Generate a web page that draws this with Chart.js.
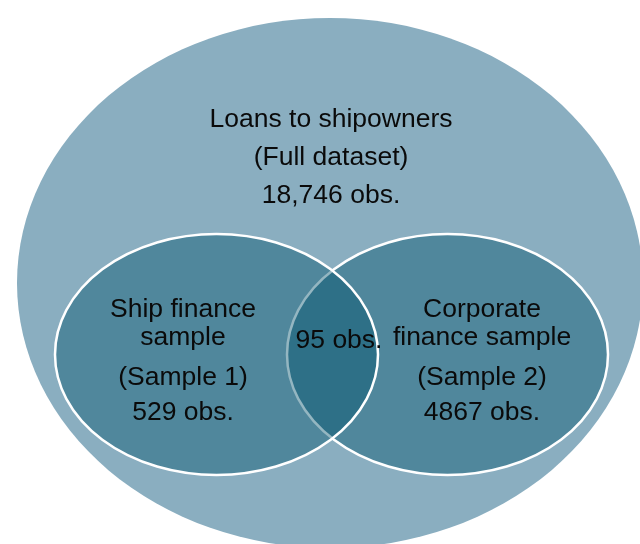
<!DOCTYPE html>
<html>
<head>
<meta charset="utf-8">
<script src="https://cdn.jsdelivr.net/npm/chart.js@4.4.1/dist/chart.umd.min.js"></script>
<style>
  html, body { margin: 0; padding: 0; background: #fff; }
  #venn { display: block; }
</style>
</head>
<body>
<canvas id="venn" width="640" height="544"></canvas>
<script>
// sets: full dataset, sample 1, sample 2
const setTitles = [['Loans to shipowners'], ['Ship finance', 'sample'], ['Corporate', 'finance sample']];
const setNotes = ['(Full dataset)', '(Sample 1)', '(Sample 2)'];
const setObs = [18746, 529, 4867];
const overlapObs = 95;

// ellipse geometry and label rows in plot units (x 0..640, y 0..544 top-down)
const shapes = [
  { cx: 330, cy: 283, rx: 313, ry: 265, tx: 331, rows: [120, 158, 196] },
  { cx: 216.5, cy: 354.5, rx: 161.5, ry: 120.5, tx: 183, rows: [310, 338, 378, 413] },
  { cx: 447.5, cy: 354.5, rx: 160.5, ry: 120.5, tx: 482, rows: [310, 338, 378, 413] }
];
const overlapPos = { x: 339, y: 341 };

const fmtObs = n => (n >= 10000 ? n.toLocaleString('en-US') : String(n)) + ' obs.';

function ellipsePath(ctx, chart, s) {
  const { x, y } = chart.scales;
  const px = x.getPixelForValue(s.cx), py = y.getPixelForValue(s.cy);
  const rx = Math.abs(x.getPixelForValue(s.cx + s.rx) - px);
  const ry = Math.abs(y.getPixelForValue(s.cy + s.ry) - py);
  ctx.beginPath();
  ctx.ellipse(px, py, rx, ry, 0, 0, Math.PI * 2);
}

const vennPlugin = {
  id: 'venn',
  beforeDatasetsDraw(chart) {
    const ctx = chart.ctx;
    ctx.save();
    // outer set
    ellipsePath(ctx, chart, shapes[0]);
    ctx.fillStyle = '#8aaec0';
    ctx.fill();
    // samples: right first, left on top
    [2, 1].forEach(i => {
      ellipsePath(ctx, chart, shapes[i]);
      ctx.fillStyle = 'rgba(0, 80, 107, 0.42)';
      ctx.fill();
      ctx.lineWidth = 2.5;
      ctx.strokeStyle = '#ffffff';
      ctx.stroke();
    });
    ctx.restore();
  },
  afterDatasetsDraw(chart) {
    const ctx = chart.ctx;
    const { x, y } = chart.scales;
    ctx.save();
    ctx.fillStyle = '#0a0a0a';
    ctx.textAlign = 'center';
    ctx.textBaseline = 'middle';
    ctx.font = '26.5px "Liberation Sans", Arial, sans-serif';
    shapes.forEach((s, i) => {
      const lines = [...setTitles[i], setNotes[i], fmtObs(setObs[i])];
      lines.forEach((ln, k) => {
        ctx.fillText(ln, x.getPixelForValue(s.tx), y.getPixelForValue(s.rows[k]));
      });
    });
    ctx.fillText(fmtObs(overlapObs), x.getPixelForValue(overlapPos.x), y.getPixelForValue(overlapPos.y));
    ctx.restore();
  }
};

new Chart(document.getElementById('venn'), {
  type: 'scatter',
  data: {
    datasets: [{
      data: shapes.map(s => ({ x: s.cx, y: s.cy })),
      pointRadius: 0
    }]
  },
  options: {
    responsive: false,
    animation: false,
    layout: { padding: 0 },
    plugins: { legend: { display: false }, tooltip: { enabled: false } },
    events: [],
    scales: {
      x: { type: 'linear', min: 0, max: 640, display: false },
      y: { type: 'linear', min: 0, max: 544, reverse: true, display: false }
    }
  },
  plugins: [vennPlugin]
});
</script>
</body>
</html>
